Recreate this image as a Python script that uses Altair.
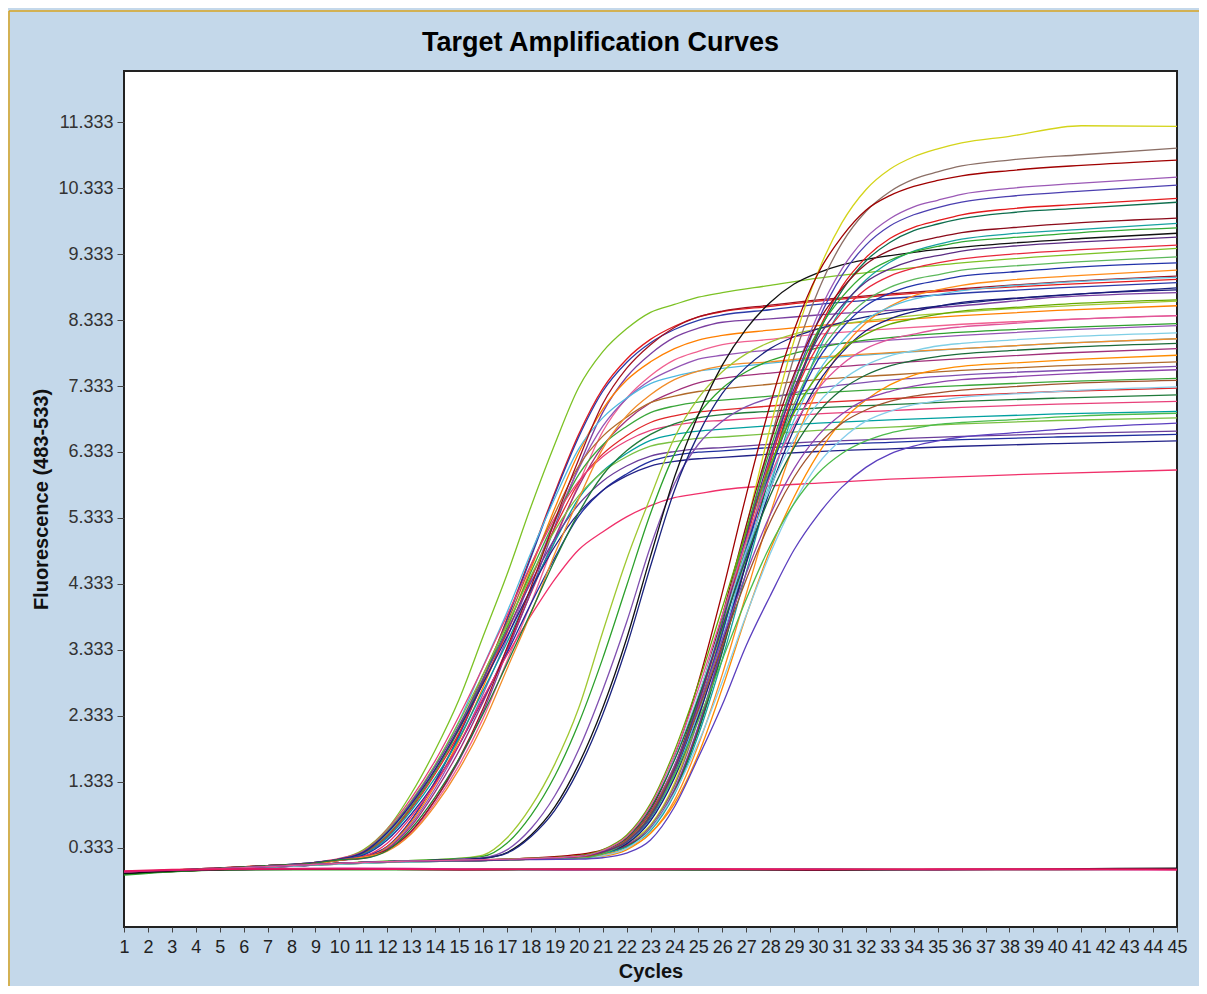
import altair as alt
import pandas as pd

# ---------------- data ----------------
EARLY_CYCLES = [1, 4, 7, 9, 10, 11, 12, 13, 14, 15, 16, 17, 18, 19, 20, 21, 22, 23, 24, 25, 26, 28, 30, 33, 36, 40, 45]
E01 = [-0.05, 0.00, 0.06, 0.10, 0.16, 0.30, 0.62, 1.15, 1.81, 2.58, 3.53, 4.47, 5.50, 6.45, 7.31, 7.85, 8.20, 8.45, 8.57, 8.68, 8.75, 8.86, 8.97, 9.09, 9.20, 9.31, 9.42]
E02 = [-0.04, 0.01, 0.06, 0.10, 0.15, 0.20, 0.35, 0.75, 1.34, 2.05, 2.88, 3.80, 4.76, 5.72, 6.60, 7.29, 7.74, 8.04, 8.24, 8.38, 8.46, 8.54, 8.62, 8.71, 8.79, 8.87, 8.95]
E03 = [-0.06, 0.00, 0.05, 0.09, 0.15, 0.20, 0.35, 0.75, 1.33, 2.03, 2.86, 3.78, 4.73, 5.69, 6.56, 7.25, 7.69, 7.99, 8.19, 8.33, 8.41, 8.49, 8.57, 8.66, 8.74, 8.82, 8.90]
E04 = [-0.05, 0.00, 0.06, 0.10, 0.14, 0.19, 0.30, 0.58, 1.05, 1.65, 2.39, 3.30, 4.21, 5.20, 6.11, 6.93, 7.47, 7.82, 8.07, 8.21, 8.30, 8.35, 8.41, 8.48, 8.55, 8.68, 8.75]
E05 = [-0.04, 0.01, 0.06, 0.10, 0.15, 0.18, 0.34, 0.72, 1.28, 1.96, 2.76, 3.64, 4.56, 5.48, 6.32, 6.98, 7.42, 7.70, 7.90, 8.03, 8.10, 8.18, 8.25, 8.33, 8.40, 8.48, 8.55]
E06 = [-0.05, 0.00, 0.05, 0.09, 0.14, 0.19, 0.29, 0.56, 1.01, 1.58, 2.29, 3.16, 4.03, 4.98, 5.85, 6.64, 7.15, 7.49, 7.73, 7.86, 7.96, 8.04, 8.12, 8.20, 8.27, 8.34, 8.40]
E07 = [-0.06, 0.00, 0.06, 0.10, 0.15, 0.18, 0.32, 0.69, 1.23, 1.89, 2.66, 3.50, 4.39, 5.27, 6.08, 6.72, 7.14, 7.42, 7.60, 7.74, 7.80, 7.88, 7.95, 8.03, 8.10, 8.18, 8.25]
E08 = [-0.05, 0.01, 0.06, 0.11, 0.16, 0.26, 0.54, 1.00, 1.58, 2.25, 3.08, 3.90, 4.80, 5.63, 6.38, 6.85, 7.15, 7.37, 7.48, 7.56, 7.60, 7.68, 7.75, 7.83, 7.90, 7.98, 8.05]
E09 = [-0.04, 0.00, 0.05, 0.09, 0.14, 0.17, 0.31, 0.66, 1.18, 1.80, 2.54, 3.34, 4.19, 5.03, 5.81, 6.42, 6.81, 7.08, 7.25, 7.38, 7.45, 7.53, 7.60, 7.68, 7.75, 7.83, 7.90]
E10 = [-0.05, 0.00, 0.06, 0.10, 0.16, 0.25, 0.52, 0.96, 1.51, 2.16, 2.95, 3.74, 4.61, 5.40, 6.12, 6.57, 6.86, 7.08, 7.18, 7.25, 7.29, 7.36, 7.43, 7.50, 7.57, 7.64, 7.70]
E11 = [-0.06, 0.00, 0.05, 0.10, 0.16, 0.25, 0.51, 0.94, 1.48, 2.12, 2.89, 3.67, 4.51, 5.29, 5.99, 6.44, 6.72, 6.93, 7.03, 7.09, 7.12, 7.18, 7.23, 7.29, 7.34, 7.40, 7.45]
E12 = [-0.05, 0.01, 0.06, 0.10, 0.15, 0.24, 0.50, 0.92, 1.45, 2.07, 2.83, 3.59, 4.42, 5.18, 5.87, 6.30, 6.58, 6.78, 6.88, 6.94, 6.97, 7.03, 7.08, 7.14, 7.19, 7.25, 7.30]
E13 = [-0.04, 0.00, 0.06, 0.11, 0.17, 0.28, 0.61, 1.08, 1.65, 2.33, 3.07, 3.85, 4.62, 5.33, 5.89, 6.26, 6.50, 6.66, 6.74, 6.79, 6.81, 6.86, 6.91, 6.96, 7.01, 7.06, 7.10]
E14 = [-0.05, 0.00, 0.05, 0.10, 0.15, 0.23, 0.48, 0.89, 1.39, 1.99, 2.71, 3.44, 4.24, 4.97, 5.63, 6.04, 6.31, 6.51, 6.60, 6.65, 6.68, 6.73, 6.77, 6.82, 6.86, 6.91, 6.95]
E15 = [-0.06, 0.00, 0.06, 0.11, 0.16, 0.27, 0.59, 1.04, 1.59, 2.24, 2.96, 3.71, 4.45, 5.14, 5.67, 6.03, 6.26, 6.42, 6.49, 6.54, 6.56, 6.61, 6.66, 6.71, 6.76, 6.81, 6.85]
E16 = [-0.05, 0.01, 0.06, 0.11, 0.16, 0.27, 0.57, 1.02, 1.56, 2.19, 2.89, 3.62, 4.35, 5.02, 5.54, 5.89, 6.12, 6.27, 6.34, 6.38, 6.40, 6.45, 6.49, 6.53, 6.57, 6.61, 6.65]
E17 = [-0.05, 0.00, 0.05, 0.10, 0.15, 0.22, 0.45, 0.84, 1.32, 1.89, 2.58, 3.28, 4.03, 4.73, 5.36, 5.75, 6.00, 6.19, 6.28, 6.33, 6.35, 6.40, 6.44, 6.48, 6.52, 6.56, 6.60]
E18 = [-0.04, 0.00, 0.06, 0.11, 0.16, 0.26, 0.56, 0.99, 1.52, 2.14, 2.82, 3.53, 4.25, 4.90, 5.41, 5.75, 5.97, 6.12, 6.19, 6.23, 6.25, 6.30, 6.34, 6.38, 6.42, 6.46, 6.50]
E19 = [-0.05, 0.00, 0.06, 0.10, 0.15, 0.20, 0.40, 0.80, 1.30, 1.90, 2.60, 3.25, 3.85, 4.40, 4.85, 5.12, 5.35, 5.52, 5.64, 5.70, 5.76, 5.82, 5.86, 5.92, 5.96, 6.01, 6.06]
E20 = [-0.05, 0.00, 0.06, 0.10, 0.14, 0.19, 0.30, 0.58, 1.06, 1.68, 2.44, 3.36, 4.28, 5.29, 6.22, 7.06, 7.60, 7.96, 8.22, 8.38, 8.47, 8.56, 8.64, 8.73, 8.81, 8.91, 9.00]
E21 = [-0.06, 0.00, 0.05, 0.09, 0.14, 0.19, 0.28, 0.54, 0.97, 1.52, 2.20, 3.04, 3.88, 4.79, 5.62, 6.38, 6.88, 7.20, 7.43, 7.56, 7.64, 7.70, 7.77, 7.84, 7.90, 7.98, 8.05]
E22 = [-0.05, 0.00, 0.06, 0.10, 0.15, 0.17, 0.29, 0.62, 1.10, 1.68, 2.36, 3.12, 3.90, 4.69, 5.41, 5.98, 6.35, 6.60, 6.76, 6.85, 6.90, 6.95, 7.00, 7.05, 7.10, 7.15, 7.20]
EARLY = {
    "E01": ("#7cc225", E01), "E02": ("#e41a1c", E02), "E03": ("#2b3aa8", E03),
    "E04": ("#7b3fa0", E04), "E05": ("#ff7f00", E05), "E06": ("#f06090", E06),
    "E07": ("#9455b5", E07), "E08": ("#4fb8e0", E08), "E09": ("#a0307a", E09),
    "E10": ("#b06a2a", E10), "E11": ("#3aa63a", E11), "E12": ("#e0282a", E12),
    "E13": ("#e8407a", E13), "E14": ("#00a0a0", E14), "E15": ("#7ac143", E15),
    "E16": ("#6a3d9a", E16), "E17": ("#1f2f9f", E17), "E18": ("#222288", E18),
    "E19": ("#f0306a", E19), "E20": ("#a01020", E20), "E21": ("#f28c28", E21),
    "E22": ("#1f7a3a", E22),
}

MID_CYCLES = [1, 5, 9, 12, 14, 15, 16, 17, 18, 19, 20, 21, 22, 23, 24, 25, 26, 27, 28, 29, 30, 31, 32, 34, 37, 41, 45]
M01 = [-0.05, 0.00, 0.08, 0.13, 0.15, 0.17, 0.22, 0.48, 0.95, 1.60, 2.45, 3.60, 4.70, 5.65, 6.55, 7.15, 7.55, 7.82, 8.00, 8.12, 8.20, 8.27, 8.32, 8.40, 8.48, 8.56, 8.62]
M02 = [-0.04, 0.01, 0.08, 0.13, 0.15, 0.17, 0.20, 0.40, 0.82, 1.42, 2.22, 3.20, 4.30, 5.40, 6.30, 6.90, 7.30, 7.55, 7.72, 7.83, 7.91, 7.98, 8.03, 8.10, 8.17, 8.23, 8.28]
M03 = [-0.05, 0.00, 0.07, 0.12, 0.14, 0.16, 0.18, 0.30, 0.62, 1.12, 1.82, 2.72, 3.75, 4.90, 5.85, 6.45, 6.80, 7.02, 7.15, 7.23, 7.30, 7.35, 7.39, 7.45, 7.52, 7.58, 7.63]
M04 = [-0.06, 0.00, 0.07, 0.12, 0.14, 0.15, 0.17, 0.26, 0.52, 0.95, 1.60, 2.45, 3.50, 4.75, 5.95, 6.90, 7.65, 8.20, 8.60, 8.88, 9.05, 9.17, 9.25, 9.36, 9.47, 9.57, 9.65]
M05 = [-0.05, 0.00, 0.07, 0.12, 0.14, 0.15, 0.17, 0.25, 0.50, 0.90, 1.52, 2.35, 3.38, 4.60, 5.75, 6.60, 7.22, 7.62, 7.90, 8.08, 8.20, 8.30, 8.38, 8.50, 8.62, 8.73, 8.82]
MID = {
    "M01": ("#a0c832", M01), "M02": ("#2ca02c", M02), "M03": ("#8050b0", M03),
    "M04": ("#111111", M04), "M05": ("#1a237e", M05),
}

LATE_CYCLES = [1, 6, 12, 17, 20, 21, 22, 23, 24, 25, 26, 27, 28, 29, 30, 31, 32, 33, 34, 35, 36, 38, 41, 45]
L01 = [-0.05, 0.03, 0.12, 0.15, 0.21, 0.27, 0.40, 0.68, 1.31, 2.35, 3.68, 5.20, 6.70, 8.02, 9.06, 9.81, 10.31, 10.62, 10.81, 10.93, 11.02, 11.12, 11.28, 11.27]
L02 = [-0.05, 0.03, 0.12, 0.15, 0.21, 0.26, 0.38, 0.66, 1.27, 2.28, 3.57, 5.03, 6.49, 7.77, 8.77, 9.50, 9.98, 10.28, 10.47, 10.58, 10.67, 10.76, 10.84, 10.94]
L03 = [-0.06, 0.02, 0.12, 0.16, 0.23, 0.30, 0.47, 0.90, 1.70, 2.84, 4.20, 5.68, 7.05, 8.18, 9.04, 9.60, 10.00, 10.22, 10.36, 10.45, 10.52, 10.60, 10.68, 10.76]
L04 = [-0.05, 0.03, 0.11, 0.15, 0.20, 0.25, 0.37, 0.63, 1.22, 2.18, 3.42, 4.83, 6.23, 7.46, 8.42, 9.11, 9.58, 9.87, 10.05, 10.15, 10.24, 10.33, 10.41, 10.50]
L05 = [-0.04, 0.03, 0.12, 0.15, 0.20, 0.25, 0.36, 0.62, 1.20, 2.16, 3.38, 4.77, 6.16, 7.37, 8.32, 9.01, 9.47, 9.76, 9.93, 10.04, 10.12, 10.21, 10.29, 10.38]
L06 = [-0.05, 0.02, 0.12, 0.15, 0.19, 0.24, 0.36, 0.61, 1.18, 2.12, 3.32, 4.68, 6.04, 7.23, 8.16, 8.84, 9.28, 9.57, 9.74, 9.84, 9.93, 10.02, 10.09, 10.18]
L07 = [-0.05, 0.03, 0.11, 0.15, 0.19, 0.24, 0.35, 0.61, 1.17, 2.10, 3.30, 4.66, 6.00, 7.19, 8.12, 8.78, 9.23, 9.51, 9.69, 9.79, 9.87, 9.96, 10.03, 10.12]
L08 = [-0.06, 0.03, 0.12, 0.16, 0.21, 0.28, 0.43, 0.83, 1.56, 2.61, 3.85, 5.22, 6.47, 7.51, 8.30, 8.81, 9.18, 9.39, 9.51, 9.59, 9.66, 9.73, 9.81, 9.88]
L09 = [-0.05, 0.03, 0.12, 0.15, 0.19, 0.24, 0.34, 0.59, 1.14, 2.04, 3.19, 4.51, 5.81, 6.96, 7.86, 8.51, 8.94, 9.21, 9.38, 9.48, 9.56, 9.64, 9.71, 9.80]
L10 = [-0.04, 0.03, 0.12, 0.16, 0.20, 0.27, 0.43, 0.82, 1.54, 2.57, 3.79, 5.14, 6.37, 7.39, 8.17, 8.68, 9.04, 9.24, 9.37, 9.45, 9.52, 9.58, 9.66, 9.73]
L11 = [-0.05, 0.02, 0.12, 0.15, 0.20, 0.27, 0.42, 0.80, 1.50, 2.50, 3.70, 5.00, 6.20, 7.20, 7.95, 8.45, 8.80, 9.00, 9.12, 9.20, 9.26, 9.33, 9.40, 9.47]
L12 = [-0.05, 0.03, 0.11, 0.15, 0.20, 0.26, 0.41, 0.78, 1.47, 2.45, 3.62, 4.91, 6.08, 7.06, 7.80, 8.29, 8.63, 8.83, 8.95, 9.02, 9.09, 9.15, 9.22, 9.29]
L13 = [-0.06, 0.03, 0.12, 0.15, 0.19, 0.26, 0.40, 0.77, 1.45, 2.43, 3.59, 4.86, 6.03, 6.99, 7.73, 8.21, 8.55, 8.74, 8.86, 8.93, 9.00, 9.06, 9.14, 9.20]
L14 = [-0.05, 0.03, 0.12, 0.15, 0.18, 0.22, 0.32, 0.55, 1.05, 1.89, 2.96, 4.18, 5.39, 6.45, 7.29, 7.89, 8.29, 8.54, 8.70, 8.79, 8.86, 8.94, 9.01, 9.09]
L15 = [-0.05, 0.02, 0.12, 0.15, 0.19, 0.25, 0.40, 0.75, 1.42, 2.37, 3.50, 4.74, 5.88, 6.82, 7.54, 8.01, 8.34, 8.53, 8.65, 8.72, 8.78, 8.85, 8.92, 8.98]
L16 = [-0.04, 0.03, 0.12, 0.15, 0.18, 0.25, 0.39, 0.74, 1.39, 2.32, 3.43, 4.64, 5.76, 6.68, 7.38, 7.84, 8.17, 8.35, 8.46, 8.54, 8.60, 8.66, 8.73, 8.79]
L17 = [-0.05, 0.03, 0.12, 0.16, 0.21, 0.30, 0.52, 1.00, 1.80, 2.82, 3.97, 5.12, 6.13, 6.93, 7.50, 7.88, 8.12, 8.27, 8.35, 8.42, 8.47, 8.52, 8.59, 8.64]
L18 = [-0.05, 0.03, 0.11, 0.15, 0.20, 0.28, 0.49, 0.94, 1.69, 2.65, 3.74, 4.83, 5.78, 6.53, 7.07, 7.42, 7.65, 7.79, 7.87, 7.94, 7.98, 8.03, 8.09, 8.14]
L19 = [-0.06, 0.02, 0.12, 0.15, 0.19, 0.28, 0.48, 0.93, 1.66, 2.60, 3.67, 4.73, 5.67, 6.40, 6.93, 7.28, 7.50, 7.64, 7.72, 7.78, 7.82, 7.87, 7.93, 7.98]
L20 = [-0.05, 0.03, 0.12, 0.15, 0.17, 0.20, 0.30, 0.55, 1.00, 1.75, 2.75, 3.85, 4.85, 5.65, 6.30, 6.80, 7.12, 7.35, 7.50, 7.58, 7.63, 7.68, 7.74, 7.80]
L21 = [-0.05, 0.03, 0.12, 0.15, 0.18, 0.27, 0.45, 0.88, 1.58, 2.47, 3.49, 4.49, 5.38, 6.08, 6.58, 6.91, 7.13, 7.25, 7.33, 7.39, 7.43, 7.47, 7.53, 7.58]
L22 = [-0.04, 0.03, 0.12, 0.15, 0.18, 0.26, 0.45, 0.86, 1.54, 2.42, 3.41, 4.40, 5.27, 5.95, 6.44, 6.77, 6.97, 7.10, 7.18, 7.23, 7.27, 7.32, 7.38, 7.42]
L23 = [-0.05, 0.02, 0.12, 0.15, 0.17, 0.21, 0.32, 0.61, 1.16, 1.93, 2.85, 3.86, 4.79, 5.56, 6.15, 6.53, 6.80, 6.95, 7.05, 7.11, 7.16, 7.21, 7.27, 7.32]
L24 = [-0.05, 0.03, 0.12, 0.15, 0.17, 0.24, 0.42, 0.80, 1.44, 2.26, 3.18, 4.10, 4.91, 5.55, 6.01, 6.31, 6.50, 6.62, 6.69, 6.75, 6.78, 6.82, 6.88, 6.92]
L25 = [-0.05, 0.03, 0.12, 0.15, 0.16, 0.18, 0.25, 0.45, 0.95, 1.70, 2.50, 3.40, 4.15, 4.85, 5.38, 5.80, 6.10, 6.30, 6.42, 6.50, 6.56, 6.62, 6.70, 6.77]
L26 = [-0.05, 0.03, 0.12, 0.15, 0.20, 0.27, 0.42, 0.81, 1.52, 2.53, 3.74, 5.06, 6.28, 7.29, 8.06, 8.55, 8.91, 9.11, 9.24, 9.31, 9.38, 9.45, 9.52, 9.59]
L27 = [-0.05, 0.03, 0.12, 0.16, 0.20, 0.29, 0.50, 0.97, 1.75, 2.74, 3.86, 4.98, 5.96, 6.74, 7.29, 7.66, 7.90, 8.04, 8.12, 8.19, 8.23, 8.28, 8.35, 8.40]
LATE = {
    "L01": ("#d4d41a", L01), "L02": ("#8b6f66", L02), "L03": ("#a00000", L03),
    "L04": ("#9b59b6", L04), "L05": ("#4b3fb0", L05), "L06": ("#e31a1c", L06),
    "L07": ("#0e6e4e", L07), "L08": ("#8b0a1a", L08), "L09": ("#17a2a0", L09),
    "L10": ("#33aa33", L10), "L11": ("#e8283c", L11), "L12": ("#5cb85c", L12),
    "L13": ("#2233aa", L13), "L14": ("#ff8c1a", L14), "L15": ("#5bc0de", L15),
    "L16": ("#1a1a7a", L16), "L17": ("#66aa00", L17), "L18": ("#7fcfe6", L18),
    "L19": ("#1b6b3a", L19), "L20": ("#ff8c00", L20), "L21": ("#8e44ad", L21),
    "L22": ("#a0522d", L22), "L23": ("#87ceeb", L23), "L24": ("#4cbb4c", L24),
    "L25": ("#5b3fbf", L25), "L26": ("#5b2c83", L26), "L27": ("#e0559a", L27),
}

FLAT_CYCLES = [1, 3, 6, 10, 15, 20, 25, 30, 35, 40, 45]
N01 = [-0.08, -0.03, 0.00, 0.00, 0.00, 0.01, 0.00, 0.01, 0.00, 0.00, 0.01]
N02 = [-0.06, -0.02, 0.00, 0.01, 0.00, 0.00, 0.00, -0.01, 0.00, 0.01, 0.02]
N03 = [-0.03, -0.01, 0.01, 0.02, 0.01, 0.00, 0.01, 0.01, 0.00, 0.00, 0.00]
N04 = [-0.02, 0.00, 0.01, 0.01, 0.00, 0.01, 0.01, 0.00, 0.01, 0.01, 0.00]
FLAT = {
    "N01": ("#2ca02c", N01), "N02": ("#111111", N02),
    "N03": ("#d01c8b", N03), "N04": ("#e8175d", N04),
}

Y_TICKS = [0.333, 1.333, 2.333, 3.333, 4.333, 5.333, 6.333, 7.333, 8.333, 9.333, 10.333, 11.333]
X_TICKS = list(range(1, 46))


def to_rows(group, cycles):
    rows = []
    for name, (col, vals) in group.items():
        for c, v in zip(cycles, vals):
            rows.append({"curve": name, "color": col, "cycle": c, "fluor": v})
    return rows


pos = pd.DataFrame(to_rows(EARLY, EARLY_CYCLES) + to_rows(MID, MID_CYCLES) + to_rows(LATE, LATE_CYCLES))
neg = pd.DataFrame(to_rows(FLAT, FLAT_CYCLES))

FONT = "Liberation Sans"


def x_enc():
    return alt.X(
        "cycle:Q",
        scale=alt.Scale(domain=[1, 45], nice=False, zero=False),
        axis=alt.Axis(
            values=X_TICKS, format="d", labelOverlap=False, labelFlush=False,
            labelFontSize=18, labelFont=FONT, labelColor="#222222",
            tickSize=5, tickColor="#444444", labelPadding=6, domain=False, grid=False,
            title="Cycles", titleFont=FONT, titleFontSize=20, titleFontWeight="bold",
            titleColor="#111111", titlePadding=5,
        ),
    )


def y_enc():
    return alt.Y(
        "fluor:Q",
        scale=alt.Scale(domain=[-0.87, 12.11], nice=False, zero=False),
        axis=alt.Axis(
            values=Y_TICKS, format=".3f", labelFontSize=18, labelFont=FONT,
            labelOverlap=False, labelColor="#333333", tickSize=7, tickColor="#444444",
            labelPadding=4, domain=False, grid=False,
            title="Fluorescence (483-533)", titleFont=FONT, titleFontSize=20,
            titleFontWeight="bold", titleColor="#111111", titlePadding=6,
        ),
    )


pos_lines = alt.Chart(pos).mark_line(strokeWidth=1.3, interpolate="monotone", clip=True).encode(
    x=x_enc(), y=y_enc(),
    color=alt.Color("color:N", scale=None),
    detail="curve:N",
)
neg_lines = alt.Chart(neg).mark_line(strokeWidth=1.6, interpolate="monotone", clip=True).encode(
    x=x_enc(), y=y_enc(),
    color=alt.Color("color:N", scale=None),
    detail="curve:N",
)

deco = pd.DataFrame({"k": [0]})
top_rule = alt.Chart(deco).mark_rule(color="#d9a520", strokeWidth=1.5).encode(
    x=alt.value(-115), x2=alt.value(1090), y=alt.value(-60)
)
left_rule = alt.Chart(deco).mark_rule(color="#d9a520", strokeWidth=1.5).encode(
    x=alt.value(-115), y=alt.value(-60), y2=alt.value(930)
)

chart = alt.layer(pos_lines, neg_lines, top_rule, left_rule).properties(
    width=1053,
    height=856,
    title=alt.TitleParams(
        "Target Amplification Curves", font=FONT, fontSize=27, fontWeight="bold",
        color="#000000", anchor="middle", frame="group", baseline="alphabetic",
        dx=-50, dy=82, offset=14,
    ),
    background="#c4d8ea",
    padding={"left": 116, "top": 63, "right": 22, "bottom": 59},
    autosize=alt.AutoSizeParams(type="none"),
).configure_view(stroke="#222222", strokeWidth=2, fill="white").configure_axisX(labelOverlap=False)

chart.save("out.html", embed_options={"renderer": "svg", "actions": False})
